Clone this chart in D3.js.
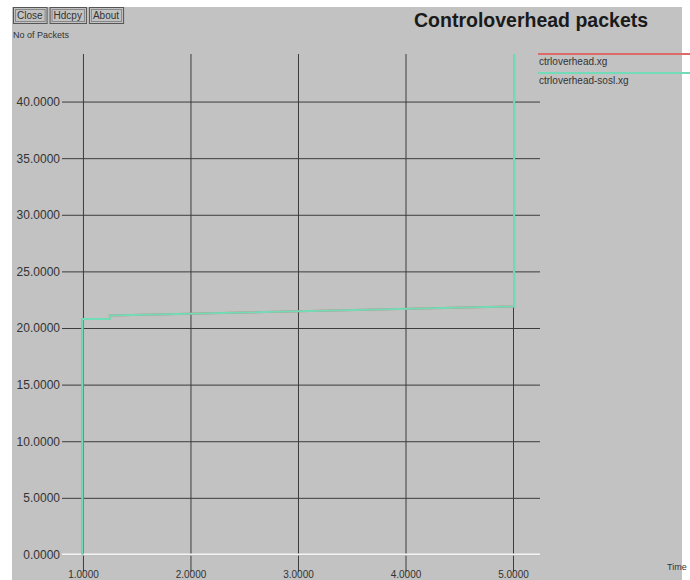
<!DOCTYPE html>
<html>
<head>
<meta charset="utf-8">
<script src="https://cdn.jsdelivr.net/npm/d3@7"></script>
<style>
  html, body { margin: 0; padding: 0; background: #ffffff; }
  svg { display: block; font-family: "Liberation Sans", Arial, Helvetica, sans-serif; }
</style>
</head>
<body>
<svg id="chart" width="690" height="580"></svg>
<script>
// Control overhead packet counts over simulation time (two trace files)
const seriesNames = ["ctrloverhead.xg", "ctrloverhead-sosl.xg"];
const seriesColors = ["#de6a6a", "#72dcb8"];
const timeA = [0.995, 0.995, 1.25, 1.25, 5.01, 5.01];
const packetsA = [0.0, 20.8, 20.8, 21.1, 21.9, 44.2];
const timeB = [0.995, 0.995, 1.25, 1.25, 5.01, 5.01];
const packetsB = [0.0, 20.8, 20.8, 21.1, 21.9, 44.2];
const xTicks = [1, 2, 3, 4, 5];
const yTicks = [0, 5, 10, 15, 20, 25, 30, 35, 40];
const buttonLabels = ["Close", "Hdcpy", "About"];

const svg = d3.select("#chart");

// window background
svg.append("rect").attr("x", 12).attr("y", 7).attr("width", 670).attr("height", 573)
  .attr("fill", "#c2c2c2");

const plotL = 62, plotR = 540, plotT = 54, plotB = 572;
const x = d3.scaleLinear().domain([0.805, 5.251]).range([plotL, plotR]);
const y = d3.scaleLinear().domain([-1.55, 44.2]).range([plotB, plotT]);

// horizontal grid + y labels
const yAxis = svg.append("g").attr("transform", `translate(${plotL},0)`)
  .call(d3.axisLeft(y).tickValues(yTicks).tickSize(-(plotR - plotL)).tickPadding(2)
    .tickFormat(d3.format(".4f")));
yAxis.select(".domain").remove();
yAxis.selectAll(".tick line").attr("stroke", "#3c3c3c").attr("stroke-width", 1);
yAxis.selectAll(".tick text").attr("fill", "#333").style("font-size", "12px");

// vertical grid + x labels
const xAxis = svg.append("g").attr("transform", `translate(0,${plotB})`)
  .call(d3.axisBottom(x).tickValues(xTicks).tickSize(-(plotB - plotT)).tickPadding(0)
    .tickFormat(d3.format(".4f")));
xAxis.select(".domain").remove();
xAxis.selectAll(".tick line").attr("stroke", "#3c3c3c").attr("stroke-width", 1);
xAxis.selectAll(".tick text").attr("fill", "#333").style("font-size", "10px")
  .attr("dy", "0.6em");

// zero line
svg.append("line").attr("x1", plotL).attr("x2", plotR).attr("y1", y(0)).attr("y2", y(0))
  .attr("stroke", "#f4f4f4").attr("stroke-width", 2);

// data lines
const line = d3.line().x(d => x(d[0])).y(d => y(d[1]));
const series = [
  d3.zip(timeA, packetsA),
  d3.zip(timeB, packetsB)
];
series.forEach((pts, i) => {
  svg.append("path").datum(pts).attr("d", line).attr("fill", "none")
    .attr("stroke", seriesColors[i]).attr("stroke-width", 2);
});

// legend
seriesNames.forEach((name, i) => {
  const ly = 54 + i * 19;
  svg.append("line").attr("x1", 538).attr("x2", 690).attr("y1", ly).attr("y2", ly)
    .attr("stroke", seriesColors[i]).attr("stroke-width", 2);
  svg.append("text").attr("x", 539).attr("y", ly + 11).text(name)
    .attr("fill", "#333").style("font-size", "10px");
});

// title and axis names
svg.append("text").attr("x", 414).attr("y", 27).text("Controloverhead packets")
  .attr("fill", "#1a1a1a").style("font-size", "19.5px").style("font-weight", "bold");
svg.append("text").attr("x", 13).attr("y", 38).text("No of Packets")
  .attr("fill", "#333").style("font-size", "9px");
svg.append("text").attr("x", 667).attr("y", 570).text("Time")
  .attr("fill", "#333").style("font-size", "9px");

// buttons
let bx = 13;
buttonLabels.forEach(label => {
  const g = svg.append("g");
  const t = g.append("text").attr("x", bx + 4).attr("y", 19).text(label)
    .attr("fill", "#333").style("font-size", "10px");
  const w = t.node().getComputedTextLength() + 8;
  g.insert("rect", "text").attr("x", bx + 0.5).attr("y", 7.5).attr("width", w).attr("height", 16)
    .attr("fill", "#c2c2c2").attr("stroke", "#555").attr("stroke-width", 1);
  g.insert("rect", "text").attr("x", bx + 2.5).attr("y", 9.5).attr("width", w - 4).attr("height", 12)
    .attr("fill", "none").attr("stroke", "#888").attr("stroke-width", 1);
  bx += w + 3;
});
</script>
</body>
</html>
